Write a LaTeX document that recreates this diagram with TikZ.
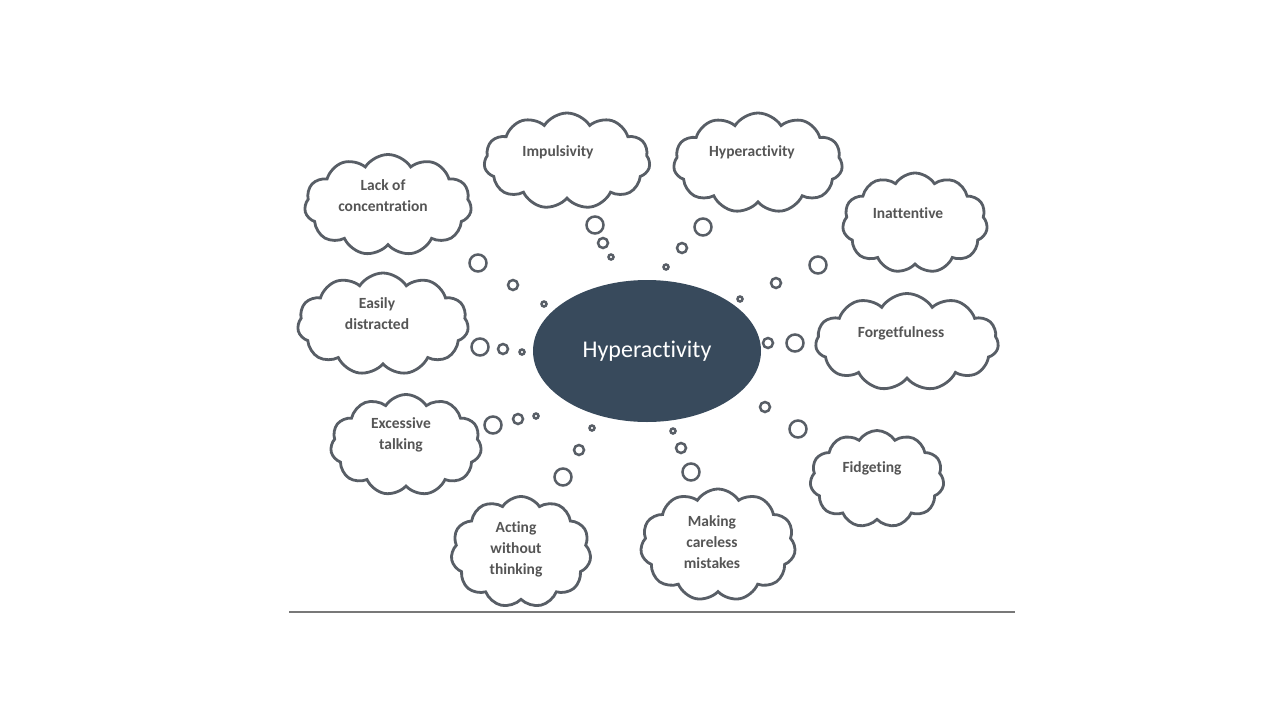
\documentclass[tikz,border=0pt]{standalone}
\usepackage{fontspec}
\setmainfont{Carlito}[Ligatures={NoCommon}]
\usetikzlibrary{shapes.symbols,shapes.geometric,positioning}
\definecolor{cloudline}{RGB}{88,94,102}
\definecolor{cloudtext}{RGB}{85,85,85}
\definecolor{hubfill}{RGB}{56,74,92}
\definecolor{rulegray}{RGB}{120,120,120}
\tikzset{
  thought/.style={cloud,cloud puffs=11,cloud puff arc=115,draw=cloudline,line width=2.8pt,fill=white,inner sep=0pt},
  thtext/.style={font=\fontsize{15.5}{21}\selectfont\bfseries,text=cloudtext,align=center},
  bubble/.style={circle,draw=cloudline,line width=2.5pt,fill=white,inner sep=0pt,minimum size=#1},
}

\begin{document}
\begin{tikzpicture}[x=1pt,y=-1pt]
\useasboundingbox (0,0) rectangle (1280,720);
% centre
\node[ellipse,fill=hubfill,minimum width=228pt,minimum height=142pt,inner sep=0pt,text=white,font=\fontsize{24}{28}\selectfont] (hub) at (647,351) {Hyperactivity};
% clouds
\node[thought,minimum width=167pt,minimum height=101pt] (lack) at (388,205) {};
\node[thought,minimum width=166pt,minimum height=96pt] (impuls) at (567,161) {};
\node[thought,minimum width=169pt,minimum height=100pt] (hyper) at (758,163) {};
\node[thought,minimum width=145pt,minimum height=100pt] (inatt) at (915,223) {};
\node[thought,minimum width=183pt,minimum height=97pt] (forget) at (907,342) {};
\node[thought,minimum width=171pt,minimum height=102pt] (easily) at (383,324) {};
\node[thought,minimum width=151pt,minimum height=101pt] (excess) at (406,445) {};
\node[thought,minimum width=134pt,minimum height=97pt] (fidget) at (877,479) {};
\node[thought,minimum width=140pt,minimum height=111pt] (acting) at (521,552) {};
\node[thought,minimum width=155pt,minimum height=112pt] (making) at (718,545) {};
% cloud texts
\node[thtext] (lack-t) at (383,196) {Lack of\\concentration};
\node[thtext] (impuls-t) at (558,152) {Impulsivity};
\node[thtext] (hyper-t) at (752,152) {Hyperactivity};
\node[thtext] (inatt-t) at (908,213) {Inattentive};
\node[thtext] (forget-t) at (901,333) {Forgetfulness};
\node[thtext] (easily-t) at (377,314) {Easily\\distracted};
\node[thtext] (excess-t) at (401,435) {Excessive\\talking};
\node[thtext] (fidget-t) at (872,468) {Fidgeting};
\node[thtext] (acting-t) at (516,549) {Acting\\without\\thinking};
\node[thtext] (making-t) at (712,542) {Making\\careless\\mistakes};
% bubbles
\node[bubble=17pt] (lack-b1) at (478,263) {};
\node[bubble=10pt] (lack-b2) at (513,285) {};
\node[bubble=5pt] (lack-b3) at (544,304) {};
\node[bubble=17pt] (impuls-b1) at (595,225) {};
\node[bubble=10pt] (impuls-b2) at (603,243) {};
\node[bubble=5pt] (impuls-b3) at (611,257) {};
\node[bubble=17pt] (hyper-b1) at (703,227) {};
\node[bubble=10pt] (hyper-b2) at (682,248) {};
\node[bubble=5pt] (hyper-b3) at (666,267) {};
\node[bubble=17pt] (inatt-b1) at (818,265) {};
\node[bubble=10pt] (inatt-b2) at (776,283) {};
\node[bubble=5pt] (inatt-b3) at (740,299) {};
\node[bubble=17pt] (easily-b1) at (480,347) {};
\node[bubble=10pt] (easily-b2) at (503,349) {};
\node[bubble=5pt] (easily-b3) at (522,352) {};
\node[bubble=17pt] (forget-b1) at (795,343) {};
\node[bubble=10pt] (forget-b2) at (768,343) {};
\node[bubble=17pt] (excess-b1) at (493,425) {};
\node[bubble=10pt] (excess-b2) at (518,419) {};
\node[bubble=5pt] (excess-b3) at (536,416) {};
\node[bubble=17pt] (fidget-b1) at (798,429) {};
\node[bubble=10pt] (fidget-b2) at (765,407) {};
\node[bubble=17pt] (acting-b1) at (563,477) {};
\node[bubble=10pt] (acting-b2) at (579,450) {};
\node[bubble=5pt] (acting-b3) at (592,428) {};
\node[bubble=17pt] (making-b1) at (691,472) {};
\node[bubble=10pt] (making-b2) at (681,448) {};
\node[bubble=5pt] (making-b3) at (673,431) {};
% base rule
\coordinate (rule-l) at (289,612);
\coordinate (rule-r) at (1015,612);
\draw[rulegray,line width=1.6pt] (rule-l) -- (rule-r);
\end{tikzpicture}
\end{document}
